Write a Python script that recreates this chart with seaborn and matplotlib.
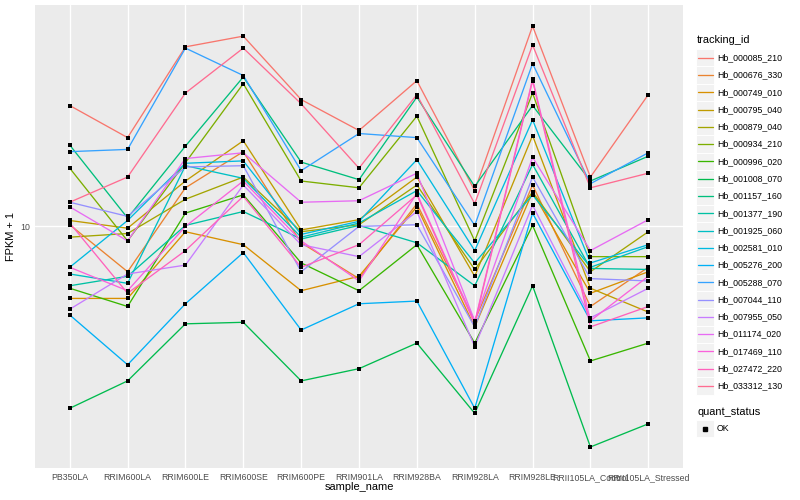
import numpy as np
import pandas as pd
import matplotlib
matplotlib.use("Agg")
import matplotlib.pyplot as plt
import seaborn as sns
from matplotlib.patches import Rectangle
from matplotlib.lines import Line2D
from matplotlib.ticker import NullLocator

samples = ["PB350LA", "RRIM600LA", "RRIM600LE", "RRIM600SE", "RRIM600PE",
           "RRIM901LA", "RRIM928BA", "RRIM928LA", "RRIM928LE",
           "RRII105LA_Control", "RRII105LA_Stressed"]

tracking_ids = ["Hb_000085_210", "Hb_000676_330", "Hb_000749_010", "Hb_000795_040",
                "Hb_000879_040", "Hb_000934_210", "Hb_000996_020", "Hb_001008_070",
                "Hb_001157_160", "Hb_001377_190", "Hb_001925_060", "Hb_002581_010",
                "Hb_005276_200", "Hb_005288_070", "Hb_007044_110", "Hb_007955_050",
                "Hb_011174_020", "Hb_017469_110", "Hb_027472_220", "Hb_033312_130"]

quant_status = ["OK"]

# FPKM + 1 per sample (order of `samples`)
hb_000085_210 = [20.1, 16.7, 28.2, 30.0, 20.8, 17.4, 23.2, 12.3, 31.8, 13.3, 21.4]
hb_000676_330 = [10.1, 7.7, 12.5, 15.4, 9.1, 7.4, 11.4, 5.8, 12.7, 6.3, 7.9]
hb_000749_010 = [6.6, 6.6, 9.7, 9.0, 6.9, 7.5, 11.2, 5.6, 12.2, 6.8, 7.7]
hb_000795_040 = [10.35, 9.9, 13.0, 16.4, 9.8, 10.4, 13.3, 7.5, 16.9, 7.0, 6.1]
hb_000879_040 = [9.4, 9.6, 11.7, 13.3, 9.7, 10.1, 12.7, 7.8, 12.2, 7.7, 9.7]
hb_000934_210 = [14.0, 9.2, 14.45, 22.8, 13.0, 12.5, 18.9, 9.2, 21.6, 8.4, 8.4]
hb_000996_020 = [7.0, 6.3, 10.8, 12.0, 8.1, 6.9, 9.0, 5.1, 10.06, 4.6, 5.1]
hb_001008_070 = [3.5, 4.1, 5.7, 5.75, 4.1, 4.4, 5.1, 3.4, 7.1, 2.8, 3.2]
hb_001157_160 = [16.0, 10.5, 15.9, 23.7, 14.5, 13.1, 21.1, 12.6, 20.1, 13.0, 15.0]
hb_001377_190 = [7.1, 7.5, 10.06, 10.9, 9.3, 10.06, 9.1, 7.1, 14.3, 7.85, 7.8]
hb_001925_060 = [7.6, 7.2, 14.2, 13.2, 9.4, 10.2, 12.3, 8.1, 12.0, 7.9, 8.9]
hb_002581_010 = [7.9, 10.35, 14.4, 14.6, 9.55, 10.3, 14.7, 8.7, 18.5, 8.1, 9.0]
hb_005276_200 = [6.0, 4.5, 6.4, 8.6, 5.5, 6.4, 6.5, 3.5, 10.8, 5.8, 5.9]
hb_005288_070 = [15.4, 15.6, 28.0, 23.9, 13.8, 17.1, 16.7, 10.06, 25.6, 12.8, 15.3]
hb_007044_110 = [11.5, 10.6, 14.1, 14.2, 7.7, 10.0, 10.1, 5.6, 13.3, 7.4, 7.3]
hb_007955_050 = [6.2, 7.6, 8.0, 12.7, 9.0, 8.4, 10.9, 5.0, 11.3, 5.9, 7.0]
hb_011174_020 = [11.2, 9.2, 14.8, 15.3, 11.5, 11.6, 13.6, 5.8, 14.9, 8.7, 10.4]
hb_017469_110 = [7.9, 6.9, 10.0, 13.0, 9.2, 7.3, 12.1, 5.75, 23.4, 5.8, 7.5]
hb_027472_220 = [10.2, 6.8, 8.7, 11.9, 7.9, 9.0, 12.0, 5.7, 23.2, 5.6, 6.3]
hb_033312_130 = [11.5, 13.3, 21.6, 28.0, 20.3, 14.0, 21.4, 11.4, 28.5, 12.5, 13.6]

series = [hb_000085_210, hb_000676_330, hb_000749_010, hb_000795_040, hb_000879_040,
          hb_000934_210, hb_000996_020, hb_001008_070, hb_001157_160, hb_001377_190,
          hb_001925_060, hb_002581_010, hb_005276_200, hb_005288_070, hb_007044_110,
          hb_007955_050, hb_011174_020, hb_017469_110, hb_027472_220, hb_033312_130]

palette = ["#F8766D", "#EA8331", "#D89000", "#C09B00", "#A3A500", "#7CAE00", "#39B600",
           "#00BB4E", "#00BF7D", "#00C1A3", "#00BFC4", "#00BAE0", "#00B0F6", "#35A2FF",
           "#9590FF", "#C77CFF", "#E76BF3", "#FA62DB", "#FF62BC", "#FF6C91"]

rows = []
for tid, vals in zip(tracking_ids, series):
    for s, v in zip(samples, vals):
        rows.append((tid, s, v, quant_status[0]))
df = pd.DataFrame(rows, columns=["tracking_id", "sample_name", "fpkm", "quant_status"])
df["sample_name"] = pd.Categorical(df["sample_name"], categories=samples, ordered=True)

sns.set_theme(style="darkgrid")
plt.rcParams["font.family"] = ["Liberation Sans", "DejaVu Sans"]
plt.rcParams["axes.facecolor"] = "#EBEBEB"

W, H = 800, 500
fig = plt.figure(figsize=(8, 5), dpi=100)
fig.patch.set_facecolor("white")
pl, pr, pt, pb = 35, 683, 5, 468
ax = fig.add_axes([pl / W, 1 - pb / H, (pr - pl) / W, (pb - pt) / H])
ax.set_facecolor("#EBEBEB")

sns.lineplot(data=df, x="sample_name", y="fpkm", hue="tracking_id",
             hue_order=tracking_ids, palette=palette, estimator=None, sort=False,
             linewidth=0.95, legend=False, ax=ax, zorder=2)
sns.scatterplot(data=df, x="sample_name", y="fpkm", color="black", marker="s",
                s=8, linewidth=0, legend=False, ax=ax, zorder=3)

ax.set_yscale("log")
lo, hi = np.log10(df["fpkm"].min()), np.log10(df["fpkm"].max())
pad = 0.05 * (hi - lo)
ax.set_ylim(10 ** (lo - pad), 10 ** (hi + pad))
ax.set_xlim(-0.6, len(samples) - 1 + 0.6)
ax.set_yticks([10])
ax.set_yticklabels(["10"])
ax.yaxis.set_minor_locator(NullLocator())
ax.set_xticks(range(len(samples)))
ax.set_xticklabels(samples)

ax.grid(True, which="major", color="white", linewidth=1.0)
ax.set_axisbelow(True)
for sp in ax.spines.values():
    sp.set_visible(False)
ax.tick_params(axis="both", which="major", length=2, width=0.8, color="#333333",
               labelsize=6.35, labelcolor="#4D4D4D", pad=1.6)

ax.set_xlabel("sample_name", fontsize=7.9, color="black")
ax.set_ylabel("FPKM + 1", fontsize=7.9, color="black")
ax.xaxis.set_label_coords(0.5, -(482 - pb) / (pb - pt))
ax.yaxis.set_label_coords(-(35 - 16) / (pr - pl), 0.5)

def fx(x):
    return x / W

def fy(y):
    return 1 - y / H

# legend: tracking_id
fig.text(fx(697), fy(40), "tracking_id", fontsize=7.9, va="center", ha="left", color="black")
ks = 17.28
for i, (tid, col) in enumerate(zip(tracking_ids, palette)):
    cy = 57.7 + i * ks
    fig.add_artist(Rectangle((fx(696.3), fy(cy + ks / 2)), ks / W, ks / H,
                             transform=fig.transFigure, facecolor="#F2F2F2",
                             edgecolor="white", linewidth=0.7))
    fig.add_artist(Line2D([fx(697.5), fx(712.5)], [fy(cy), fy(cy)], color=col,
                          linewidth=0.95, transform=fig.transFigure))
    fig.text(fx(717), fy(cy), tid, fontsize=6.35, va="center", ha="left", color="black")

# legend: quant_status
fig.text(fx(697), fy(412), "quant_status", fontsize=7.9, va="center", ha="left", color="black")
cy = 428.5
fig.add_artist(Rectangle((fx(696.3), fy(cy + ks / 2)), ks / W, ks / H,
                         transform=fig.transFigure, facecolor="#F2F2F2",
                         edgecolor="white", linewidth=0.7))
fig.add_artist(Line2D([fx(705)], [fy(cy)], marker="s", markersize=2.8, color="black",
                      linestyle="none", transform=fig.transFigure))
fig.text(fx(717), fy(cy), quant_status[0], fontsize=6.35, va="center", ha="left", color="black")

fig.savefig("out.png", dpi=100)
